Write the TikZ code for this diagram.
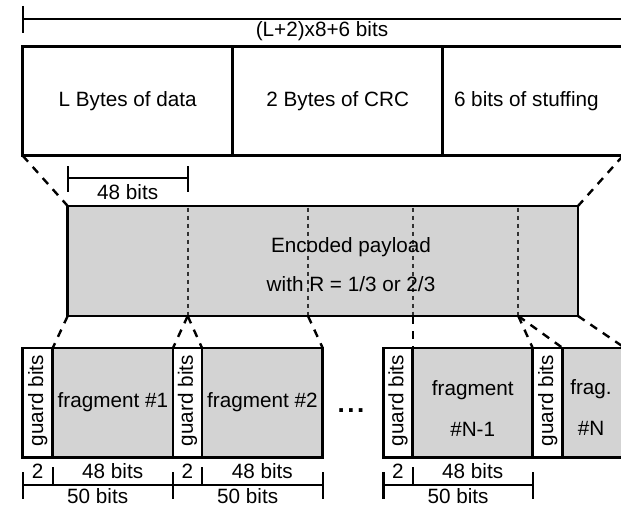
\documentclass[tikz,border=0pt]{standalone}
\usepackage{fontspec}
\setmainfont{Liberation Sans}
\usetikzlibrary{calc}
\definecolor{fillgray}{RGB}{211,211,211}
\definecolor{dashgray}{RGB}{50,50,50}
\begin{document}
\begin{tikzpicture}[x=1pt,y=-1pt,
  every node/.style={font=\fontsize{20.7}{24}\selectfont, inner sep=0pt, outer sep=0pt},
  box/.style={draw, line width=2.6pt, anchor=north west, inner sep=0pt},
  guardbox/.style={box, fill=white, minimum height=109.3pt},
  fragbox/.style={box, fill=fillgray, minimum height=109.3pt},
  dimline/.style={line width=2.4pt},
  conn/.style={line width=2.4pt, dash pattern=on 8pt off 7pt},
  inner/.style={line width=1.8pt, dashgray, dash pattern=on 4pt off 4pt},
  lab/.style={anchor=base}]
\useasboundingbox (0,0) rectangle (621,511);
\clip (0,0) rectangle (621,511);

% top total dimension
\coordinate (dimL) at (22.7,19.3);
\coordinate (dimR) at (650,19.3);
\draw[dimline] (dimL) -- (dimR);
\draw[dimline] (22.7,6) -- (22.7,33);
\node[lab] (total) at (322,37) {(L+2)x8+6 bits};

% top boxes
\node[box, minimum width=210pt, minimum height=109pt] (data) at (22.7,46.7) {L Bytes of data};
\node[box, minimum width=210pt, minimum height=109pt] (crc) at (232.7,46.7) {2 Bytes of CRC};
\node[box, minimum width=180.3pt, minimum height=109pt] (stuff) at (442.7,46.7) {};
\node[anchor=base west] (stufftext) at (454,106) {6 bits of stuffing};

% 48 bits dimension
\draw[dimline] (67.7,178) -- (187.7,178);
\draw[dimline] (67.7,166) -- (67.7,192);
\draw[dimline] (187.7,166) -- (187.7,192);
\node[lab] (top48) at (127.7,199) {48 bits};

% encoded payload
\node[box, fill=fillgray, minimum width=510.3pt, minimum height=110pt] (enc) at (67.7,206) {};
\coordinate (e1) at (187.7,316);
\coordinate (e2) at (308,316);
\coordinate (e3) at (412.7,316);
\coordinate (e4) at (518.3,316);
\foreach \c/\x in {e1/187.7,e2/308,e3/412.7,e4/518.3}
  \draw[inner] (\x,207.5) -- (\c);
\draw[line width=2.6pt] (enc.north west) rectangle (enc.south east);
\node[lab] (enctext1) at (351,252.5) {Encoded payload};
\node[lab] (enctext2) at (351,291.7) {with R = 1/3 or 2/3};

\draw[conn] (data.south west) -- (enc.north west);
\draw[conn] (stuff.south east) -- (enc.north east);

% fragments
\node[guardbox, minimum width=30pt] (g1) at (22.7,348) {};
\node[fragbox, minimum width=120.3pt] (f1) at (52.7,348) {fragment \#1};
\node[guardbox, minimum width=29pt] (g2) at (173,348) {};
\node[fragbox, minimum width=120.7pt] (f2) at (202,348) {fragment \#2};
\node[guardbox, minimum width=29.4pt] (g3) at (383.3,348) {};
\node[fragbox, minimum width=120pt] (f3) at (412.7,348) {};
\node[guardbox, minimum width=30pt] (g4) at (532.7,348) {};
\node[fragbox, minimum width=62.3pt] (f4) at (562.7,348) {};

\foreach \g in {g1,g2,g3,g4}
  \node[rotate=90] (\g t) at ($(\g.center)+(0,-2)$) {guard bits};
\node[lab] (f3a) at (472.7,395) {fragment};
\node[lab] (f3b) at (472.7,436) {\#N-1};
\node[lab] (f4a) at (591,394.5) {frag.};
\node[lab] (f4b) at (591,435.5) {\#N};

\node (dots) at (351,411) {\fontsize{26}{30}\selectfont\bfseries .\hspace{2.6pt}.\hspace{2.6pt}.};

% connectors payload -> fragments
\draw[conn] (enc.south west) -- (f1.north west);
\draw[conn] (e1) -- (g2.north west);
\draw[conn] (e1) -- (f2.north west);
\draw[conn] (e2) -- (f2.north east);
\draw[conn] (e3) -- (f3.north west);
\draw[conn] (e4) -- (f3.north east);
\draw[conn] (e4) -- (f4.north west);
\draw[conn] (enc.south east) -- (f4.north east);

% bottom dimensions
\foreach \a/\b/\c/\n in {22.7/52.7/172.7/1, 172.7/202/322.7/2, 383.3/412.7/532.7/3} {
  \draw[dimline] (\a,485) -- (\c,485);
  \draw[dimline] (\a,472) -- (\a,499);
  \draw[dimline] (\c,472) -- (\c,499);
  \draw[dimline] (\b,467) -- (\b,485);
  \node[lab] (two\n) at ({(\a+\b)/2},478.3) {2};
  \node[lab] (ffe\n) at ({(\b+\c)/2},478.3) {48 bits};
  \node[lab] (fif\n) at ({(\a+\c)/2},503) {50 bits};
}
\end{tikzpicture}
\end{document}
